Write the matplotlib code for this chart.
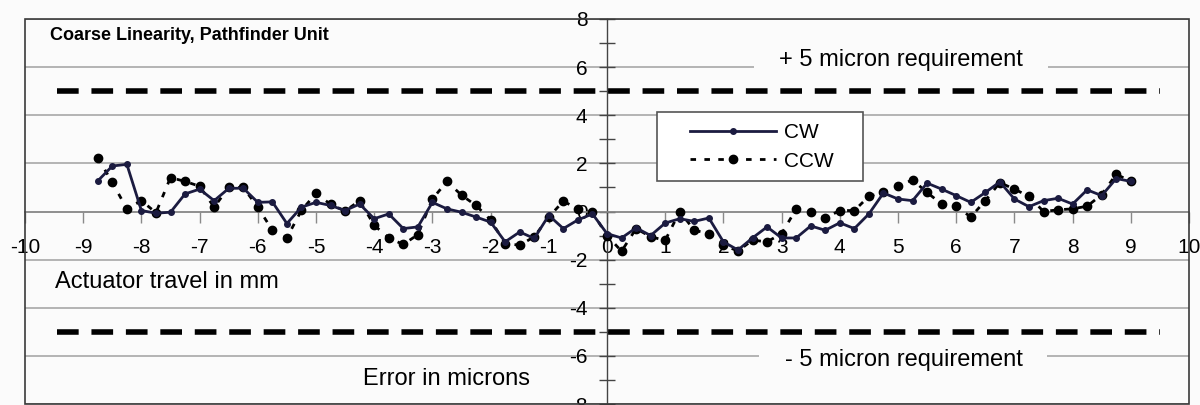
import numpy as np
import matplotlib
matplotlib.use("Agg")
import matplotlib.pyplot as plt
from matplotlib.patches import Rectangle

plt.rcParams['font.family'] = ['Liberation Sans', 'DejaVu Sans']
plt.rcParams['axes.unicode_minus'] = False

# ---------------- data ----------------
travel_mm = np.arange(-8.75, 9.001, 0.25)

cw = [1.27, 1.89, 1.96, 0.04, -0.07, -0.03, 0.73, 0.93, 0.45, 0.96,
      0.97, 0.38, 0.40, -0.50, 0.18, 0.38, 0.25, 0.04, 0.31, -0.30,
      -0.10, -0.71, -0.64, 0.38, 0.11, -0.03, -0.23, -0.44, -1.26, -0.85,
      -1.12, -0.16, -0.71, -0.35, -0.10, -0.92, -1.10, -0.68, -1.00, -0.48,
      -0.30, -0.41, -0.27, -1.26, -1.60, -1.10, -0.64, -1.10, -1.10, -0.60,
      -0.78, -0.47, -0.71, -0.10, 0.77, 0.52, 0.45, 1.18, 0.93, 0.66,
      0.38, 0.79, 1.23, 0.52, 0.20, 0.45, 0.55, 0.31, 0.90, 0.66,
      1.37, 1.25]

ccw = [2.23, 1.21, 0.11, 0.45, -0.05, 1.41, 1.25, 1.05, 0.18, 1.00,
       1.00, 0.18, -0.78, -1.09, 0.05, 0.75, 0.30, 0.02, 0.45, -0.57,
       -1.10, -1.37, -0.96, 0.52, 1.25, 0.68, 0.25, -0.35, -1.33, -1.40,
       -1.05, -0.23, 0.43, 0.10, -0.03, -1.00, -1.65, -0.71, -1.05, -1.20,
       0.00, -0.78, -0.92, -1.40, -1.64, -1.19, -1.26, -0.92, 0.10, -0.03,
       -0.27, 0.04, 0.04, 0.63, 0.80, 1.07, 1.31, 0.79, 0.31, 0.22,
       -0.23, 0.45, 1.20, 0.93, 0.63, 0.00, 0.07, 0.11, 0.22, 0.70,
       1.55, 1.25]

req_upper = 5
req_lower = -5
req_span = [-9.45, 9.5]

x_ticks = list(range(-10, 11))
y_ticks = list(range(-8, 9, 2))
y_minor = list(range(-7, 8, 2))

title = "Coarse Linearity, Pathfinder Unit"
x_label = "Actuator travel in mm"
y_label = "Error in microns"
upper_label = "+ 5 micron requirement"
lower_label = "- 5 micron requirement"
series_names = ["CW", "CCW"]

# ---------------- figure ----------------
bg = '#fbfbfb'
fig = plt.figure(figsize=(12, 4.05), dpi=100, facecolor=bg)
ax = fig.add_axes([25/1200, 1 - 404/405, 1164/1200, 385/405])
ax.set_facecolor(bg)
ax.set_xlim(-10, 10)
ax.set_ylim(-8, 8)

for s in ['top', 'right']:
    ax.spines[s].set_visible(False)
ax.spines['left'].set_position(('data', 0))
ax.spines['bottom'].set_position(('data', 0))
ax.spines['left'].set_color('#444444')
ax.spines['bottom'].set_color('#8a8a8a')
ax.spines['left'].set_linewidth(1)
ax.spines['bottom'].set_linewidth(1.2)

ax.add_patch(Rectangle((0, 0), 1, 1, transform=ax.transAxes, fill=False,
                       ec='#3a3a3a', lw=1.2, clip_on=False, zorder=6))

ax.set_xticks(x_ticks)
ax.set_xticklabels([str(t) for t in x_ticks])
ax.set_yticks(y_ticks)
ax.set_yticklabels([str(t) for t in y_ticks])
ax.set_yticks(y_minor, minor=True)
ax.tick_params(axis='x', direction='out', length=8, width=1, pad=11,
               labelsize=15, color='#8a8a8a')
ax.tick_params(axis='y', which='both', direction='inout', length=12,
               width=1, pad=8, labelsize=15, color='#444444')

ax.set_axisbelow(True)
ax.grid(axis='y', which='major', color='#a0a0a0', lw=1.1)

# requirement lines
ax.plot(req_span, [req_upper, req_upper], color='black', lw=4,
        dashes=(3.9, 2.3), solid_capstyle='butt', dash_capstyle='butt', zorder=3)
ax.plot(req_span, [req_lower, req_lower], color='black', lw=4,
        dashes=(3.9, 2.3), solid_capstyle='butt', dash_capstyle='butt', zorder=3)

# data series
ax.plot(travel_mm, ccw, color='black', lw=2, linestyle=(0, (2, 3)),
        marker='o', markersize=6, label=series_names[1], zorder=4)
ax.plot(travel_mm, cw, color='#1b1b40', lw=2, marker='o', markersize=4,
        label=series_names[0], zorder=4.5)

# texts
ax.text(-9.57, 7.13, title, fontsize=13, fontweight='bold', ha='left',
        va='baseline', zorder=5)
ax.text(-9.48, -3.18, x_label, fontsize=17, ha='left', va='baseline', zorder=5)
ax.text(-4.19, -7.21, y_label, fontsize=17, ha='left', va='baseline', zorder=5)
ax.text(2.95, 6.05, upper_label, fontsize=17, ha='left', va='baseline',
        zorder=2, bbox=dict(facecolor=bg, edgecolor='none', pad=18))
ax.text(3.05, -6.42, lower_label, fontsize=17, ha='left', va='baseline',
        zorder=2, bbox=dict(facecolor=bg, edgecolor='none', pad=18))

# legend
ax.add_patch(Rectangle((0.864, 1.27), 4.40 - 0.864, 4.14 - 1.27,
                       facecolor='white', edgecolor='#555555', lw=1.2, zorder=7))
h, l = ax.get_legend_handles_labels()
leg = ax.legend([h[1], h[0]], [l[1], l[0]], loc='center left',
                bbox_to_anchor=(1.43, 2.68), bbox_transform=ax.transData,
                frameon=False, fontsize=15, handlelength=4.1, handletextpad=0.4,
                borderpad=0, borderaxespad=0, labelspacing=0.45, numpoints=1)
leg.set_zorder(8)

fig.savefig('out.png', dpi=100, facecolor=bg)
